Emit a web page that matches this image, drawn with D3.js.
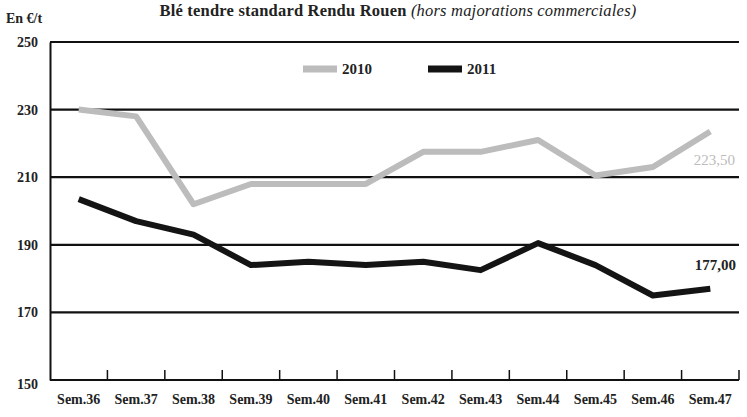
<!DOCTYPE html>
<html>
<head>
<meta charset="utf-8">
<script src="https://cdn.jsdelivr.net/npm/d3@7"></script>
<style>
  body { margin: 0; background: #fff; }
  svg { font-family: "Liberation Serif", "DejaVu Serif", serif; }
</style>
</head>
<body>
<div id="chart"></div>
<script>
const weeks = ["Sem.36", "Sem.37", "Sem.38", "Sem.39", "Sem.40", "Sem.41",
  "Sem.42", "Sem.43", "Sem.44", "Sem.45", "Sem.46", "Sem.47"];
const values2010 = [230, 228, 202, 208, 208, 208, 217.5, 217.5, 221, 210.5, 213, 223.5];
const values2011 = [203.5, 197, 193, 184, 185, 184, 185, 182.5, 190.5, 184, 175, 177];
const yTicks = [150, 170, 190, 210, 230, 250];
const seriesNames = ["2010", "2011"];
const endLabels = ["223,50", "177,00"];

const width = 747;
const height = 417;
const margin = { top: 42, right: 8, bottom: 37, left: 50 };
const colors = ["#bcbcbc", "#141414"];

const svg = d3.select("#chart")
  .append("svg")
  .attr("width", width)
  .attr("height", height)
  .attr("viewBox", [0, 0, width, height]);

const x = d3.scaleBand()
  .domain(weeks)
  .range([margin.left, width - margin.right]);
const y = d3.scaleLinear()
  .domain([150, 250])
  .range([height - margin.bottom, margin.top]);

// gridlines
svg.append("g")
  .selectAll("line")
  .data(yTicks.filter((d) => d > 150))
  .join("line")
  .attr("x1", margin.left)
  .attr("x2", width - margin.right)
  .attr("y1", (d) => y(d))
  .attr("y2", (d) => y(d))
  .attr("stroke", "#111")
  .attr("stroke-width", 2.2);

// y axis
svg.append("g")
  .attr("transform", `translate(${margin.left},0)`)
  .call(d3.axisLeft(y).tickValues(yTicks).tickSize(0).tickPadding(12))
  .call((g) => g.select(".domain").attr("stroke", "#111").attr("stroke-width", 2))
  .attr("font-size", 14)
  .attr("font-family", null)
  .attr("font-weight", "bold")
  .call((g) => g.selectAll(".tick text").attr("fill", "#222")
    .attr("dy", (d) => d === 150 ? "0.6em" : "0.32em"));

// x axis: ticks at band edges pointing up
const xAxis = svg.append("g")
  .attr("transform", `translate(0,${y(150)})`);
xAxis.append("line")
  .attr("x1", margin.left)
  .attr("x2", width - margin.right)
  .attr("stroke", "#111")
  .attr("stroke-width", 2);
xAxis.selectAll(".edge")
  .data(weeks)
  .join("line")
  .attr("class", "edge")
  .attr("x1", (d) => x(d) + x.bandwidth())
  .attr("x2", (d) => x(d) + x.bandwidth())
  .attr("y1", 0)
  .attr("y2", -10)
  .attr("stroke", "#111")
  .attr("stroke-width", 1.5);
xAxis.selectAll("text")
  .data(weeks)
  .join("text")
  .attr("x", (d) => x(d) + x.bandwidth() / 2)
  .attr("y", 24)
  .attr("text-anchor", "middle")
  .attr("font-size", 14)
  .attr("font-weight", "bold")
  .attr("fill", "#222")
  .text((d) => d);

// lines
const line = d3.line()
  .x((d, i) => x(weeks[i]) + x.bandwidth() / 2)
  .y((d) => y(d));

[values2010, values2011].forEach((vals, i) => {
  svg.append("path")
    .datum(vals)
    .attr("fill", "none")
    .attr("stroke", colors[i])
    .attr("stroke-width", 6)
    .attr("stroke-linejoin", "round")
    .attr("d", line);
});

// end labels
svg.append("text")
  .attr("x", width - 12)
  .attr("y", y(values2010[11]) + 33)
  .attr("text-anchor", "end")
  .attr("font-size", 15)
  .attr("fill", colors[0])
  .text(endLabels[0]);
svg.append("text")
  .attr("x", width - 11)
  .attr("y", y(values2011[11]) - 19)
  .attr("text-anchor", "end")
  .attr("font-size", 15)
  .attr("font-weight", "bold")
  .attr("fill", "#222")
  .text(endLabels[1]);

// legend
const legend = svg.append("g").attr("transform", "translate(303,69)");
seriesNames.forEach((name, i) => {
  const g = legend.append("g").attr("transform", `translate(${i * 125},0)`);
  g.append("line")
    .attr("x1", 0)
    .attr("x2", 34)
    .attr("stroke", colors[i])
    .attr("stroke-width", 7);
  g.append("text")
    .attr("x", 39)
    .attr("dy", "0.35em")
    .attr("font-size", 15)
    .attr("font-weight", "bold")
    .attr("fill", "#222")
    .text(name);
});

// title and unit
const title = svg.append("text")
  .attr("x", 398)
  .attr("y", 16)
  .attr("text-anchor", "middle")
  .attr("font-size", 16.5)
  .attr("letter-spacing", 0.2)
  .attr("fill", "#222");
title.append("tspan").attr("font-weight", "bold").text("Blé tendre standard Rendu Rouen ");
title.append("tspan").attr("font-style", "italic").text("(hors majorations commerciales)");

svg.append("text")
  .attr("x", 6)
  .attr("y", 23)
  .attr("font-size", 14)
  .attr("font-weight", "bold")
  .attr("fill", "#222")
  .text("En €/t");
</script>
</body>
</html>
